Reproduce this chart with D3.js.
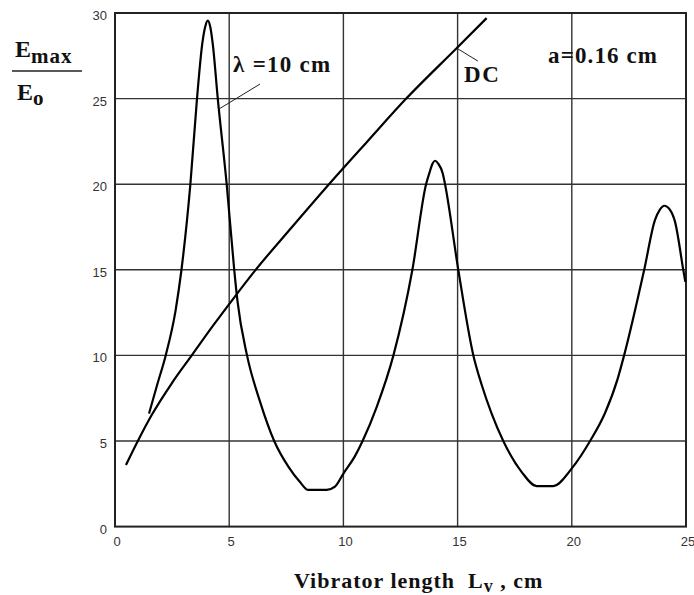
<!DOCTYPE html>
<html>
<head>
<meta charset="utf-8">
<script src="https://cdn.jsdelivr.net/npm/d3@7"></script>
<style>
  body { margin: 0; background: #fff; }
  svg { display: block; }
  .tick-label { font-family: "Liberation Sans", Arial, sans-serif; font-size: 13px; fill: #333; }
</style>
</head>
<body>
<div id="chart"></div>
<script>
// resonance curve, lambda = 10 cm
const lvRes = [1.49, 1.85, 2.22, 2.65, 2.9, 3.3, 3.59, 3.82, 3.95, 4.06, 4.17, 4.28, 4.5, 4.89, 5.22, 5.36, 5.78, 6.35, 6.97, 7.59, 8.1, 8.46, 9.27, 9.63, 10, 10.5, 10.84, 11.46, 12.19, 13.02, 13.62, 13.76, 13.9, 14.01, 14.15, 14.35, 14.45, 15.03, 15.69, 16.05, 16.49, 17.0, 17.8, 18.46, 19.19, 20, 20.8, 21.45, 22.0, 22.29, 23.17, 23.64, 23.85, 24.05, 24.3, 24.52, 24.88, 24.97];
const eRes  = [6.6, 8.3, 10, 12.6, 14.9, 20, 25, 28.2, 29.2, 29.55, 29.2, 28.2, 25, 20, 15, 13.2, 10, 7.3, 5, 3.5, 2.6, 2.14, 2.14, 2.33, 3.1, 4.1, 5, 7.0, 10, 15, 20, 20.63, 21.2, 21.37, 21.2, 20.63, 20, 15, 10, 8.3, 6.6, 5, 3.2, 2.37, 2.37, 3.4, 5, 6.62, 8.6, 10, 15, 17.9, 18.5, 18.74, 18.5, 17.8, 15, 14.3];

// DC curve
const lvDc = [0.48, 1.0, 1.6, 2.5, 3.36, 4.3, 5.2, 6.13, 7.75, 9.37, 11.05, 12.75, 15, 16.27];
const eDc  = [3.6, 5.0, 6.5, 8.4, 10, 11.75, 13.35, 14.95, 17.5, 20, 22.5, 25, 28.0, 29.7];

const xTicks = [0, 5, 10, 15, 20, 25];
const yTicks = [0, 5, 10, 15, 20, 25, 30];

const width = 694, height = 595;
const margin = {left: 115, right: 8, top: 13, bottom: 68.4};
const serif = '"Liberation Serif", "DejaVu Serif", serif';

const svg = d3.select('#chart').append('svg')
    .attr('width', width)
    .attr('height', height);

const x = d3.scaleLinear().domain([0, 25]).range([margin.left, width - margin.right]);
const y = d3.scaleLinear().domain([0, 30]).range([height - margin.bottom, margin.top]);

//grid
svg.append('g').selectAll('line')
    .data(xTicks.slice(1, -1))
    .enter().append('line')
    .attr('x1', d => x(d)).attr('x2', d => x(d))
    .attr('y1', y(0)).attr('y2', y(30))
    .attr('stroke', '#333').attr('stroke-width', 1.4);
svg.append('g').selectAll('line')
    .data(yTicks.slice(1, -1))
    .enter().append('line')
    .attr('x1', x(0)).attr('x2', x(25))
    .attr('y1', d => y(d)).attr('y2', d => y(d))
    .attr('stroke', '#333').attr('stroke-width', 1.4);

//frame
svg.append('rect')
    .attr('x', x(0)).attr('y', y(30))
    .attr('width', x(25) - x(0)).attr('height', y(0) - y(30))
    .attr('fill', 'none')
    .attr('stroke', '#222')
    .attr('stroke-width', 2);

//tick labels
svg.append('g').selectAll('text')
    .data(yTicks)
    .enter().append('text')
    .attr('class', 'tick-label')
    .attr('x', x(0) - 8)
    .attr('y', d => y(d) + 7)
    .attr('text-anchor', 'end')
    .text(d => d);
svg.append('g').selectAll('text')
    .data(xTicks)
    .enter().append('text')
    .attr('class', 'tick-label')
    .attr('x', d => x(d) + 2)
    .attr('y', y(0) + 19)
    .attr('text-anchor', 'middle')
    .text(d => d);

//curves
const line = d3.line()
    .x(d => x(d[0]))
    .y(d => y(d[1]))
    .curve(d3.curveMonotoneX);

svg.append('path')
    .datum(d3.zip(lvRes, eRes))
    .attr('d', line)
    .attr('fill', 'none')
    .attr('stroke', '#000')
    .attr('stroke-width', 2.2)
    .attr('stroke-linejoin', 'round');

svg.append('path')
    .datum(d3.zip(lvDc, eDc))
    .attr('d', line)
    .attr('fill', 'none')
    .attr('stroke', '#000')
    .attr('stroke-width', 2.2)
    .attr('stroke-linejoin', 'round');

//bold serif text helper
function label(xp, yp, size, txt) {
    return svg.append('text')
        .attr('x', xp).attr('y', yp)
        .style('font-family', serif)
        .style('font-weight', 'bold')
        .style('font-size', size)
        .style('fill', '#111')
        .text(txt);
}

//annotations (in data units)
svg.append('line')
    .attr('x1', x(6.35)).attr('y1', y(25.85))
    .attr('x2', x(4.6)).attr('y2', y(24.43))
    .attr('stroke', '#222').attr('stroke-width', 1);
label(x(5.17), y(26.57), '23px', 'λ =10 cm')
    .attr('textLength', 97).attr('lengthAdjust', 'spacing');

svg.append('line')
    .attr('x1', x(15.89)).attr('y1', y(27.19))
    .attr('x2', x(15.02)).attr('y2', y(27.9))
    .attr('stroke', '#222').attr('stroke-width', 1);
label(x(15.28), y(25.97), '23px', 'DC')
    .attr('textLength', 35).attr('lengthAdjust', 'spacing');

label(x(18.96), y(27.08), '23px', 'a=0.16 cm')
    .attr('textLength', 109).attr('lengthAdjust', 'spacing');

//y label E_max / E_o
const ylab = label(15, 57, '24px', 'E');
ylab.append('tspan').attr('dy', 6).style('font-size', '21px').style('letter-spacing', '1px').text('max');
svg.append('line')
    .attr('x1', 12).attr('x2', 82)
    .attr('y1', 71).attr('y2', 71)
    .attr('stroke', '#222').attr('stroke-width', 1.5);
const ylab2 = label(17, 100, '24px', 'E');
ylab2.append('tspan').attr('dy', 5).style('font-size', '21px').text('o');

//x label
const xlab = label(294, 588, '22px', 'Vibrator length  L')
    .attr('xml:space', 'preserve')
    .style('letter-spacing', '1px');
xlab.append('tspan').attr('dy', 4).style('font-size', '18px').text('v');
xlab.append('tspan').attr('dy', -4).text(' , cm');
</script>
</body>
</html>
